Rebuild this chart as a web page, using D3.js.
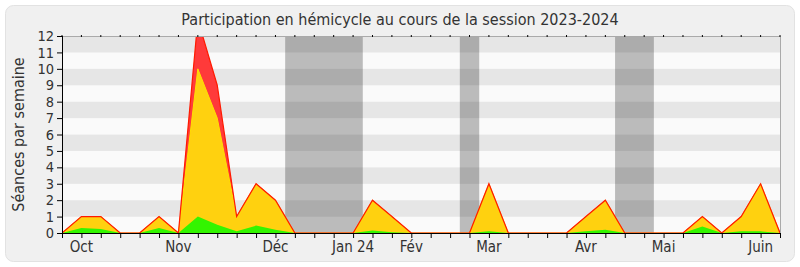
<!DOCTYPE html>
<html>
<head>
<meta charset="utf-8">
<script src="https://cdn.jsdelivr.net/npm/d3@7"></script>
<style>
  body { margin: 0; background: #ffffff; }
  text { font-family: "DejaVu Sans Condensed", "DejaVu Sans", sans-serif; font-stretch: condensed; fill: #333; }
</style>
</head>
<body>
<div class="chart"></div>
<script>
const WIDTH = 800
const HEIGHT = 267

// semaines de la session (index 0..37)
const weeks = d3.range(38)
// séances totales par semaine (rouge)
const totalSeances = [0,1,1,0,0,1,0,13,9,1,3,2,0,0,0,0,2,1,0,0,0,0,3,0,0,0,0,1,2,0,0,0,0,1,0,1,3,0]
// séances en hémicycle (jaune)
const hemicycle = [0,1,1,0,0,1,0,10,7,1,3,2,0,0,0,0,2,1,0,0,0,0,3,0,0,0,0,1,2,0,0,0,0,1,0,1,3,0]
// participation du député (vert)
const presence = [0,0.3,0.25,0,0,0.3,0,1,0.5,0.1,0.45,0.2,0,0,0,0,0.15,0.05,0,0,0,0,0.1,0,0,0,0,0.1,0.2,0,0,0,0,0.4,0,0.1,0.1,0]
// vacances parlementaires (semaines)
const vacances = [[11.5,15.5],[20.5,21.5],[28.5,30.5]]
// étiquettes des mois
const moisIndex = [1,6,11,15,18,22,27,31,36]
const moisLabels = ["Oct","Nov","Déc","Jan 24","Fév","Mar","Avr","Mai","Juin"]
const yTicks = d3.range(0, 13)

const svg = d3.select("div.chart")
            .append("svg")
            .attr("width", WIDTH)
            .attr("height", HEIGHT);

// panneau de fond
svg.append("rect")
   .attr("x", 5.5).attr("y", 5.5)
   .attr("width", 789).attr("height", 256)
   .attr("rx", 8)
   .style("fill", "#f0f0f0")
   .style("stroke", "#e2e2e2");

const x = d3.scaleLinear().domain([0, 37]).range([62, 780])
const y = d3.scaleLinear().domain([0, 12]).range([233, 36])

svg.append("defs").append("clipPath").attr("id", "plot")
   .append("rect").attr("x", 62).attr("y", 36).attr("width", 718).attr("height", 197);

// bandes horizontales
svg.selectAll("rect.band")
   .data(d3.range(12))
   .enter()
   .append("rect")
   .attr("class", "band")
   .attr("x", 62)
   .attr("width", 718)
   .attr("y", d => y(d + 1))
   .attr("height", d => y(d) - y(d + 1))
   .style("fill", d => d % 2 ? "#e6e6e6" : "#fafafa");

// vacances
svg.selectAll("rect.vac")
   .data(vacances)
   .enter()
   .append("rect")
   .attr("x", d => x(d[0]))
   .attr("width", d => x(d[1]) - x(d[0]))
   .attr("y", 36)
   .attr("height", 197)
   .style("fill", "rgba(0,0,0,0.25)");

const g = svg.append("g").attr("clip-path", "url(#plot)")

const area = vals => d3.area()
   .x((d, i) => x(i))
   .y0(y(0))
   .y1((d, i) => y(vals[i]))(weeks)
const line = vals => d3.line()
   .x((d, i) => x(i))
   .y((d, i) => y(vals[i]))(weeks)

g.append("path").attr("d", area(totalSeances)).style("fill", "#ff3a3a");
g.append("path").attr("d", area(hemicycle)).style("fill", "#ffd10f");
g.append("path").attr("d", line(hemicycle)).style("fill", "none").style("stroke", "#ffe000").style("stroke-width", 1);
g.append("path").attr("d", area(presence)).style("fill", "#33f500");
g.append("path").attr("d", line(totalSeances)).style("fill", "none").style("stroke", "#ff1a00").style("stroke-width", 1.2);

// bord du graphique
svg.append("path")
   .attr("d", "M62,36.5H780.5V233")
   .style("fill", "none")
   .style("stroke", "#aaa");

// petites marques en haut
svg.selectAll("line.top")
   .data(weeks)
   .enter()
   .append("line")
   .attr("x1", d => x(d)).attr("x2", d => x(d))
   .attr("y1", 35).attr("y2", 37)
   .style("stroke", "#000");

// axe x
const xAxis = svg.append("g")
   .attr("transform", "translate(0,233)")
   .call(d3.axisBottom(x).tickValues(weeks).tickSize(5).tickFormat(""));
xAxis.select(".domain").attr("d", "M62,0.5H780");
xAxis.selectAll("line").style("stroke", "#000");

svg.selectAll("text.mois")
   .data(moisIndex)
   .enter()
   .append("text")
   .attr("x", d => x(d))
   .attr("y", 252)
   .attr("text-anchor", "middle")
   .style("font-size", "15px")
   .text((d, i) => moisLabels[i]);

// axe y
const yAxis = svg.append("g")
   .attr("transform", "translate(62,0)")
   .call(d3.axisLeft(y).tickValues(yTicks).tickSize(5).tickPadding(3));
yAxis.select(".domain").attr("d", "M0.5,36V233");
yAxis.selectAll("text")
   .style("font-size", "14.5px")
   .style("font-family", "'DejaVu Sans Condensed', 'DejaVu Sans'")
   .style("font-stretch", "condensed")
   .style("fill", "#333");

// titre
svg.append("text")
   .attr("x", 400)
   .attr("y", 25)
   .attr("text-anchor", "middle")
   .style("font-size", "16px")
   .text("Participation en hémicycle au cours de la session 2023-2024");

svg.append("text")
   .attr("transform", "translate(24,134.5) rotate(-90)")
   .attr("text-anchor", "middle")
   .style("font-size", "16px")
   .text("Séances par semaine");
</script>
</body>
</html>
